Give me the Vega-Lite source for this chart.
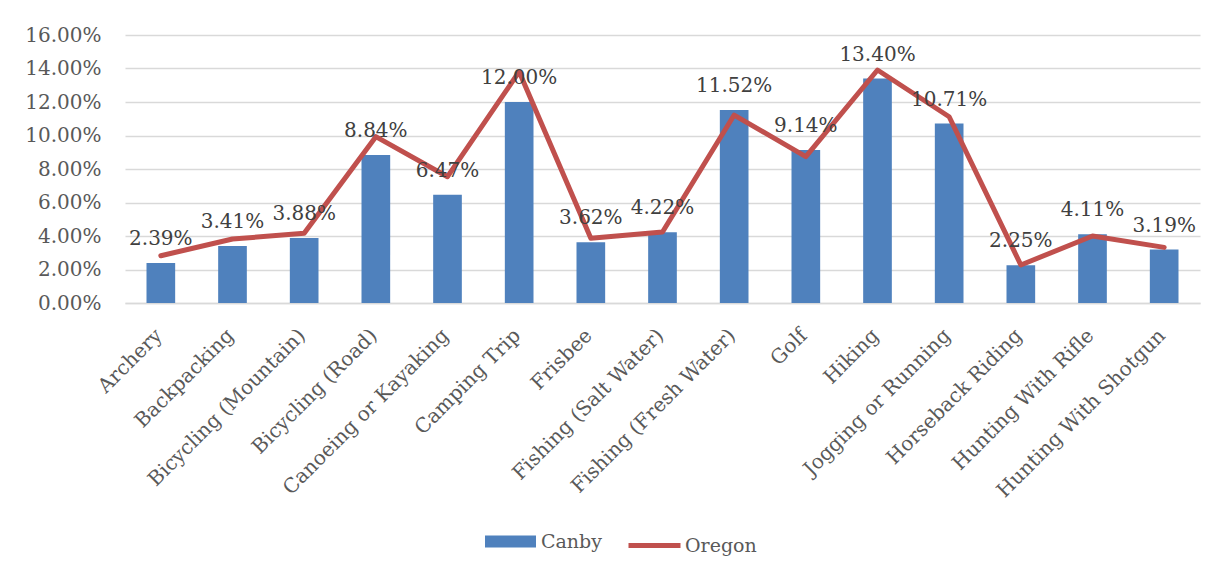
{
  "$schema": "https://vega.github.io/schema/vega-lite/v6.json",
  "width": 1075,
  "height": 268,
  "autosize": "none",
  "padding": {"left": 125, "top": 35, "right": 23, "bottom": 276},
  "background": "white",
  "config": {"view": {"stroke": null}},
  "data": {
    "values": [
      {"Activity": "Archery", "Canby": 0.0239, "Oregon": 0.0282},
      {"Activity": "Backpacking", "Canby": 0.0341, "Oregon": 0.0382},
      {"Activity": "Bicycling (Mountain)", "Canby": 0.0388, "Oregon": 0.0416},
      {"Activity": "Bicycling (Road)", "Canby": 0.0884, "Oregon": 0.0993},
      {"Activity": "Canoeing or Kayaking", "Canby": 0.0647, "Oregon": 0.0754},
      {"Activity": "Camping Trip", "Canby": 0.12, "Oregon": 0.1381},
      {"Activity": "Frisbee", "Canby": 0.0362, "Oregon": 0.0386},
      {"Activity": "Fishing (Salt Water)", "Canby": 0.0422, "Oregon": 0.0424},
      {"Activity": "Fishing (Fresh Water)", "Canby": 0.1152, "Oregon": 0.1122},
      {"Activity": "Golf", "Canby": 0.0914, "Oregon": 0.0874},
      {"Activity": "Hiking", "Canby": 0.134, "Oregon": 0.1391},
      {"Activity": "Jogging or Running", "Canby": 0.1071, "Oregon": 0.1112},
      {"Activity": "Horseback Riding", "Canby": 0.0225, "Oregon": 0.0227},
      {"Activity": "Hunting With Rifle", "Canby": 0.0411, "Oregon": 0.04},
      {"Activity": "Hunting With Shotgun", "Canby": 0.0319, "Oregon": 0.0332}
    ]
  },
  "encoding": {
    "x": {
      "field": "Activity",
      "type": "nominal",
      "sort": null,
      "scale": {"paddingInner": 0.6, "paddingOuter": 0.3},
      "axis": {
        "title": null,
        "labelAngle": -45,
        "labelFont": "DejaVu Serif",
        "labelFontSize": 20,
        "labelColor": "#595959",
        "labelPadding": 22,
        "labelOffset": -9,
        "labelLimit": 0,
        "labelOverlap": false,
        "ticks": false,
        "domain": true,
        "domainColor": "#D9D9D9",
        "domainWidth": 1.5,
        "grid": false
      }
    }
  },
  "layer": [
    {
      "mark": {"type": "bar", "color": "#4F81BD"},
      "encoding": {
        "y": {
          "field": "Canby",
          "type": "quantitative",
          "scale": {"domain": [0, 0.16], "nice": false},
          "axis": {
            "title": null,
            "format": ".2%",
            "values": [0, 0.02, 0.04, 0.06, 0.08, 0.1, 0.12, 0.14, 0.16],
            "tickCount": 9,
            "labelOverlap": false,
            "labelFont": "DejaVu Serif",
            "labelFontSize": 20,
            "labelColor": "#595959",
            "labelPadding": 24,
            "ticks": false,
            "domain": false,
            "grid": true,
            "gridColor": "#D9D9D9",
            "gridWidth": 1.5
          }
        },
        "fill": {
          "datum": "Canby",
          "type": "nominal",
          "scale": {"domain": ["Canby"], "range": ["#4F81BD"]},
          "legend": {
            "title": null,
            "orient": "none",
            "legendX": 360,
            "legendY": 481,
            "symbolType": "M-1,-0.235H1V0.235H-1Z",
            "symbolSize": 2601,
            "symbolStrokeWidth": 0,
            "labelFont": "DejaVu Serif",
            "labelFontSize": 19,
            "labelColor": "#595959",
            "labelOffset": 5
          }
        }
      }
    },
    {
      "mark": {"type": "line", "strokeWidth": 5, "strokeJoin": "round", "strokeCap": "round"},
      "encoding": {
        "y": {
          "field": "Oregon",
          "type": "quantitative",
          "axis": {
            "title": null,
            "format": ".2%",
            "values": [0, 0.02, 0.04, 0.06, 0.08, 0.1, 0.12, 0.14, 0.16],
            "tickCount": 9,
            "labelOverlap": false,
            "labelFont": "DejaVu Serif",
            "labelFontSize": 20,
            "labelColor": "#595959",
            "labelPadding": 24,
            "ticks": false,
            "domain": false,
            "grid": true,
            "gridColor": "#D9D9D9",
            "gridWidth": 1.5
          }
        },
        "stroke": {
          "datum": "Oregon",
          "type": "nominal",
          "scale": {"domain": ["Oregon"], "range": ["#C0504D"]},
          "legend": {
            "title": null,
            "orient": "none",
            "legendX": 501,
            "legendY": 482,
            "symbolType": "stroke",
            "symbolSize": 2704,
            "symbolStrokeWidth": 5,
            "labelFont": "DejaVu Serif",
            "labelFontSize": 19,
            "labelColor": "#595959",
            "labelOffset": 2
          }
        }
      }
    },
    {
      "mark": {"type": "text", "font": "DejaVu Serif", "fontSize": 20, "color": "#404040", "baseline": "alphabetic", "dy": -18},
      "encoding": {
        "y": {
          "field": "Canby",
          "type": "quantitative",
          "axis": {
            "title": null,
            "format": ".2%",
            "values": [0, 0.02, 0.04, 0.06, 0.08, 0.1, 0.12, 0.14, 0.16],
            "tickCount": 9,
            "labelOverlap": false,
            "labelFont": "DejaVu Serif",
            "labelFontSize": 20,
            "labelColor": "#595959",
            "labelPadding": 24,
            "ticks": false,
            "domain": false,
            "grid": true,
            "gridColor": "#D9D9D9",
            "gridWidth": 1.5
          }
        },
        "text": {"field": "Canby", "type": "quantitative", "format": ".2%"}
      }
    }
  ]
}
